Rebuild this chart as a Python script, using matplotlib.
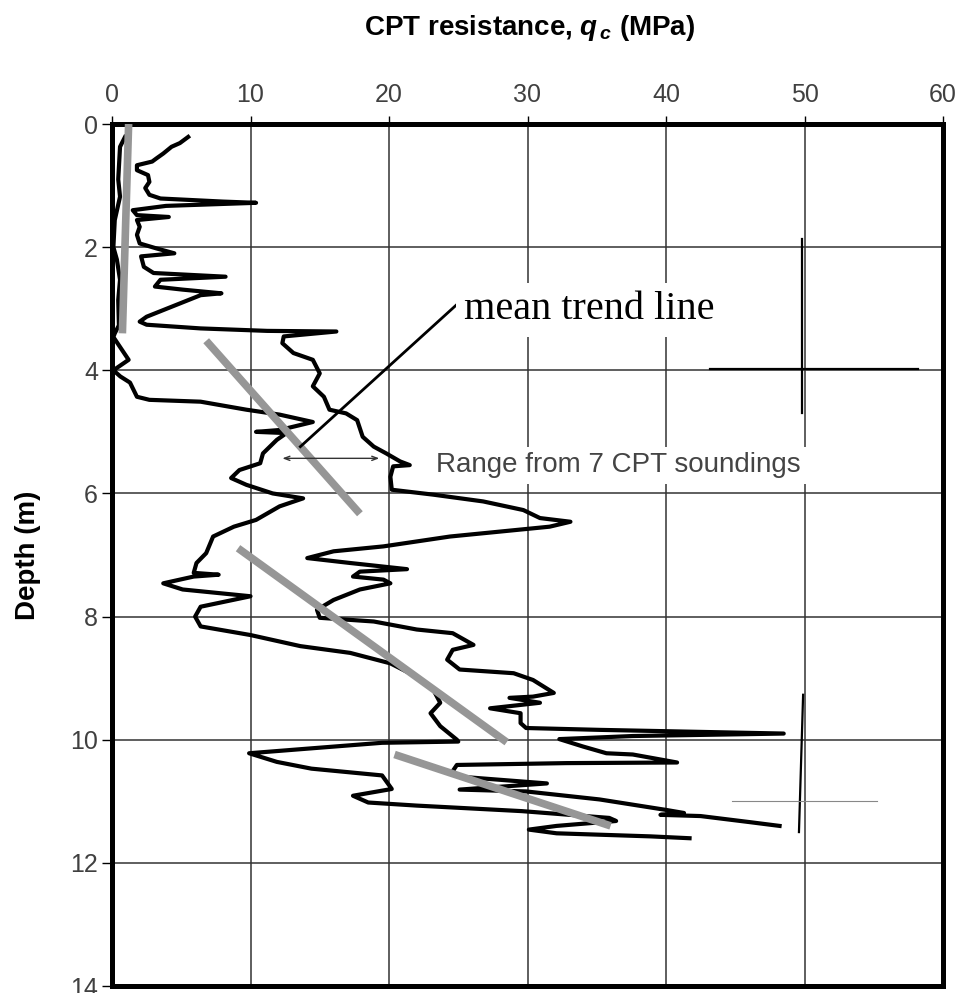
import numpy as np
import matplotlib
matplotlib.use("Agg")
import matplotlib.pyplot as plt

plt.rcParams['font.family'] = ['Liberation Sans', 'DejaVu Sans']
plt.rcParams['mathtext.fontset'] = 'custom'
plt.rcParams['mathtext.it'] = 'Liberation Sans:italic:bold'
plt.rcParams['mathtext.rm'] = 'Liberation Sans:bold'

# lower bound of the 7 soundings (depth in m, qc in MPa)
min_qc = [0.94, 0.58, 0.45, 0.58, 0.2, 0.1, 0.35, 0.58, 0.45, 0.5, 0.2, 0.1, 1.2, 0.1, 0.6, 1.3,
          1.8, 2.7, 6.4, 9.7, 12.1, 14.5, 12.1, 10.4, 12.6, 11.9, 10.9, 10.7, 9.2, 8.6, 9.7, 11.6,
          13.8, 12.1, 10.4, 8.8, 7.3, 6.8, 6.1, 5.9, 7.7, 5.9, 3.7, 5.1, 10.0, 6.4, 6.0, 6.4,
          10.0, 13.6, 17.2, 20.1, 21.5, 23.2, 23.7, 23.0, 23.7, 24.9, 25.0, 19.5, 14.4, 9.9,
          11.9, 14.4, 19.5, 20.2, 17.4, 18.5, 22.0, 29.6, 35.9, 36.4, 32.1, 30.1, 32.1, 38.9, 41.7]
min_depth = [0.21, 0.37, 0.9, 1.18, 1.56, 2.0, 2.2, 2.53, 2.86, 3.27, 3.4, 3.46, 3.83, 4.0, 4.1, 4.2,
             4.43, 4.48, 4.51, 4.64, 4.72, 4.84, 4.97, 5.0, 5.02, 5.13, 5.35, 5.51, 5.62, 5.75, 5.86, 6.0,
             6.08, 6.21, 6.43, 6.54, 6.7, 6.97, 7.13, 7.29, 7.32, 7.35, 7.46, 7.56, 7.67, 7.84, 8.0, 8.16,
             8.3, 8.48, 8.59, 8.76, 8.92, 9.19, 9.40, 9.57, 9.78, 10.0, 10.03, 10.05, 10.14, 10.22,
             10.36, 10.47, 10.58, 10.80, 10.91, 11.02, 11.07, 11.16, 11.27, 11.32, 11.40, 11.46, 11.52, 11.57, 11.6]

# upper bound of the 7 soundings
max_qc = [5.5, 4.9, 4.3, 3.7, 3.2, 2.9, 1.8, 1.8, 2.6, 2.7, 2.4, 2.7, 3.5, 8.0, 10.4, 3.9, 1.5, 1.8,
          4.1, 1.8, 2.0, 1.8, 2.0, 3.2, 4.5, 2.1, 2.3, 3.0, 8.2, 3.5, 3.1, 5.1, 7.9, 6.4, 2.5, 2.0,
          2.5, 6.4, 11.2, 16.2, 12.4, 12.3, 13.1, 14.5, 15.0, 14.5, 15.3, 15.7, 16.9, 17.7, 18.1,
          18.9, 19.8, 20.8, 21.5, 20.3, 20.1, 20.2, 23.2, 26.8, 29.7, 30.9, 33.1, 31.6, 28.0, 24.4,
          19.6, 16.0, 14.1, 17.2, 21.3, 17.9, 17.4, 19.6, 20.1, 17.9, 16.0, 14.8, 15.0, 18.9, 22.0,
          24.6, 26.1, 24.6, 24.2, 25.1, 29.0, 30.4, 31.9, 30.4, 28.7, 30.9, 27.3, 29.5, 29.5, 29.9,
          35.2, 48.5, 37.6, 32.3, 34.0, 35.7, 37.6, 40.8, 32.8, 24.9, 24.6, 25.1, 31.4, 25.1, 29.9,
          35.2, 40.0, 41.3, 39.6, 42.5, 46.1, 48.2]
max_depth = [0.21, 0.31, 0.37, 0.48, 0.56, 0.61, 0.67, 0.75, 0.83, 0.94, 1.04, 1.15, 1.21, 1.26, 1.28,
             1.33, 1.40, 1.48, 1.51, 1.56, 1.67, 1.80, 1.94, 2.02, 2.10, 2.15, 2.32, 2.42, 2.48, 2.53,
             2.64, 2.69, 2.75, 2.78, 3.13, 3.21, 3.26, 3.32, 3.36, 3.37, 3.45, 3.56, 3.72, 3.83, 4.05,
             4.26, 4.43, 4.64, 4.70, 4.81, 5.08, 5.24, 5.35, 5.48, 5.54, 5.56, 5.73, 5.94, 6.02, 6.13,
             6.27, 6.40, 6.46, 6.54, 6.62, 6.70, 6.86, 6.94, 7.05, 7.13, 7.23, 7.27, 7.35, 7.40, 7.46,
             7.56, 7.73, 7.89, 8.02, 8.08, 8.21, 8.27, 8.46, 8.54, 8.70, 8.86, 8.92, 9.03, 9.24, 9.30,
             9.32, 9.40, 9.49, 9.57, 9.73, 9.81, 9.84, 9.90, 9.94, 9.99, 10.11, 10.22, 10.24, 10.37,
             10.38, 10.41, 10.51, 10.60, 10.71, 10.81, 10.84, 10.97, 11.14, 11.19, 11.22, 11.24,
             11.34, 11.40]

# mean trend line segments: (qc start, qc end), (depth start, depth end)
trend_qc = [(1.2, 0.75), (6.8, 17.9), (9.1, 28.5), (20.4, 36.0)]
trend_depth = [(0.0, 3.4), (3.52, 6.33), (6.89, 10.04), (10.24, 11.4)]

x_ticks = [0, 10, 20, 30, 40, 50, 60]
y_ticks = [0, 2, 4, 6, 8, 10, 12, 14]

fig = plt.figure(figsize=(9.64, 9.93), dpi=100)
ax = fig.add_axes([112 / 964, 7 / 993, 831 / 964, 862 / 993])

ax.set_xlim(0, 60)
ax.set_ylim(14, 0)
ax.set_xticks(x_ticks)
ax.set_yticks(y_ticks)
ax.xaxis.tick_top()
ax.grid(True, color='#333333', lw=1.1, zorder=0)
ax.set_axisbelow(True)
for s in ax.spines.values():
    s.set_linewidth(3.6)
ax.tick_params(axis='x', direction='out', length=6, width=1, pad=6, labelsize=18, labelcolor='#404040')
ax.tick_params(axis='y', direction='out', length=7, width=1, pad=3, labelsize=18, labelcolor='#404040')

# envelopes from the soundings
ax.plot(min_qc, min_depth, color='black', lw=3, zorder=3)
ax.plot(max_qc, max_depth, color='black', lw=3, zorder=3)

# trend lines
for xs, ys in zip(trend_qc, trend_depth):
    ax.plot(xs, ys, color='#969696', lw=5.5, solid_capstyle='butt', zorder=4)

# annotations
ax.plot([25.3, 13.6], [2.85, 5.24], color='black', lw=2, zorder=5)
ax.text(25.4, 3.02, 'mean trend line', family='Liberation Serif', fontsize=29, ha='left', va='center',
        bbox=dict(boxstyle='square,pad=0.2', fc='white', ec='none'), zorder=6)
ax.text(23.4, 5.54, 'Range from 7 CPT soundings', fontsize=20, color='#444444', ha='left', va='center',
        bbox=dict(boxstyle='square,pad=0.2', fc='white', ec='none'), zorder=6)
ax.annotate('', xy=(12.1, 5.43), xytext=(19.5, 5.43),
            arrowprops=dict(arrowstyle='<->,head_length=0.4,head_width=0.15', color='#333333', lw=1),
            zorder=5)

# stray cross marks near qc = 50
ax.plot([49.8, 49.8], [1.86, 4.69], color='black', lw=1.6, zorder=7)
ax.plot([43.2, 58.2], [3.98, 3.98], color='black', lw=1.6, zorder=7)
ax.plot([49.9, 49.6], [9.27, 11.5], color='black', lw=1.6, zorder=7)
ax.plot([44.8, 55.2], [10.99, 10.99], color='#888888', lw=0.8, zorder=7)

fig.text(530 / 964, 1 - 28 / 993, r'CPT resistance, $q_{\,c}$ (MPa)', fontsize=20, fontweight='bold',
         ha='center', va='center')
fig.text(28 / 964, 1 - 555 / 993, 'Depth (m)', fontsize=20, fontweight='bold', rotation=90,
         ha='center', va='center')

fig.savefig('out.png', dpi=100)
